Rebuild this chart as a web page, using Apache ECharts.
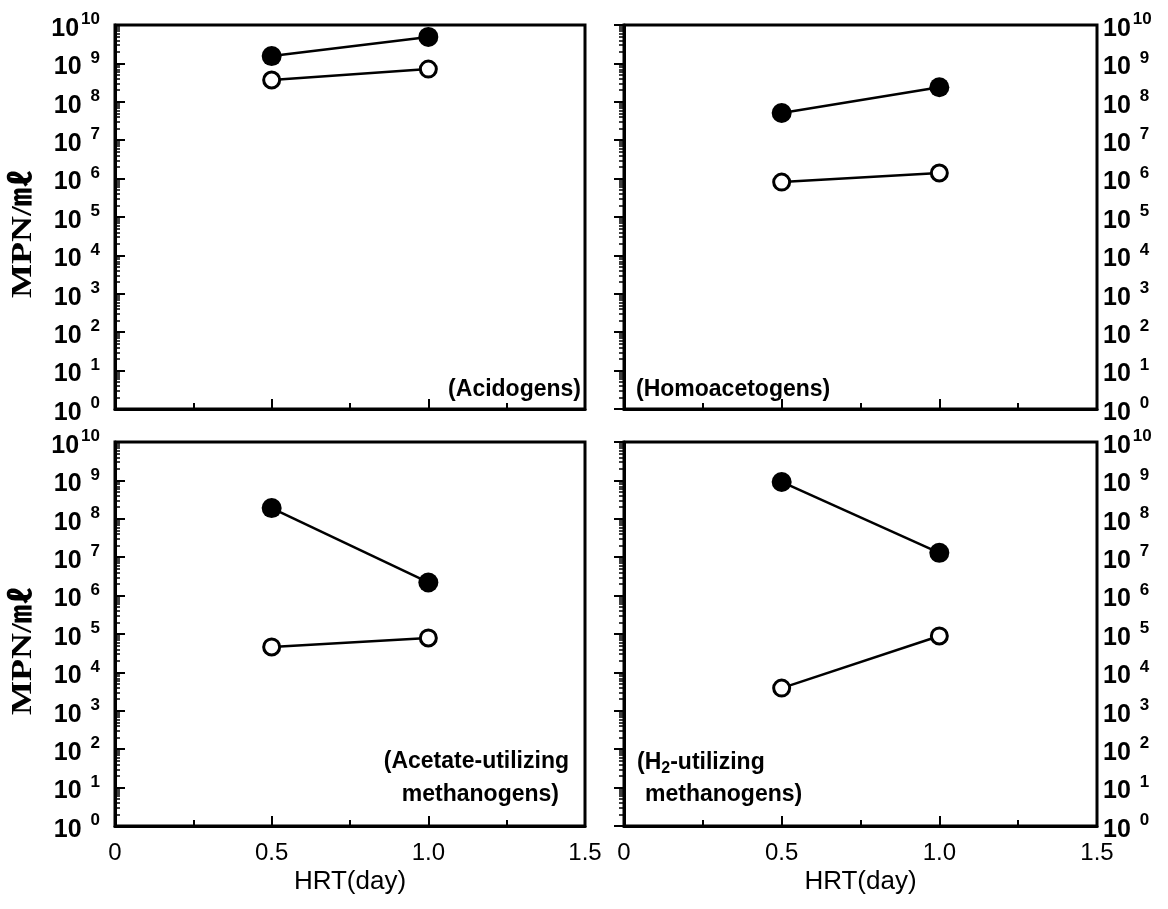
<!DOCTYPE html>
<html>
<head>
<meta charset="utf-8">
<script src="https://cdn.jsdelivr.net/npm/echarts@6/dist/echarts.min.js"></script>
<style>
html,body{margin:0;padding:0;background:#fff;}
#chart{width:1168px;height:909px;}
</style>
</head>
<body>
<div id="chart"></div>
<script>
// ---- data ----
const hrtValues = [0.5, 1.0];
const acidogensFilled = [1.55e9, 4.9e9];
const acidogensOpen = [3.7e8, 7.1e8];
const homoacetogensFilled = [5.1e7, 2.4e8];
const homoacetogensOpen = [8.1e5, 1.4e6];
const acetateFilled = [1.9e8, 2.2e6];
const acetateOpen = [4.6e4, 7.9e4];
const h2Filled = [9.1e8, 1.3e7];
const h2Open = [3.9e3, 8.9e4];
const xTickLabels = {0: '0', 0.5: '0.5', 1: '1.0', 1.5: '1.5'};
const yMin = 1, yMax = 1e10;

const SANS = '"Liberation Sans", Arial, Helvetica, sans-serif';
const SERIF = '"Liberation Serif", "Times New Roman", "Noto Sans CJK KR", serif';

const grids = [
  {left: 115, top: 25, width: 470, height: 384},
  {left: 624, top: 25, width: 473, height: 384},
  {left: 115, top: 442, width: 470, height: 384},
  {left: 624, top: 442, width: 473, height: 384}
];

function pairs(ys) { return hrtValues.map((x, i) => [x, ys[i]]); }

function xAxis(i, showLabels) {
  return {
    type: 'value', gridIndex: i, min: 0, max: 1.5, interval: 0.5,
    axisLine: {show: true, onZero: false, lineStyle: {color: '#000', width: 3}},
    axisTick: {show: true, inside: true, length: 10, lineStyle: {color: '#000', width: 2}},
    minorTick: {show: true, splitNumber: 2, length: 6, lineStyle: {color: '#000', width: 2}},
    splitLine: {show: false},
    axisLabel: {
      show: showLabels, margin: 15, color: '#000', fontSize: 24, fontFamily: SANS,
      formatter: v => xTickLabels[v] !== undefined ? xTickLabels[v] : String(v)
    },
    name: showLabels ? 'HRT(day)' : '',
    nameLocation: 'middle', nameGap: 43,
    nameTextStyle: {color: '#000', fontSize: 26, fontFamily: SANS}
  };
}

function yAxis(i, right) {
  return {
    type: 'log', logBase: 10, gridIndex: i, min: yMin, max: yMax, interval: 1,
    position: right ? 'right' : 'left',
    axisLine: {show: true, lineStyle: {color: '#000', width: 3}},
    axisTick: {show: true, inside: true, length: 10, lineStyle: {color: '#000', width: 2}},
    minorTick: {show: true, splitNumber: 9, length: 5, lineStyle: {color: '#000', width: 1.5}},
    splitLine: {show: false},
    axisLabel: {
      show: true, margin: right ? 6 : 15, color: '#000', fontFamily: SANS,
      align: right ? 'left' : 'right', padding: [8, 0, 0, 0],
      formatter: v => {
        const e = Math.round(Math.log10(v));
        return '{b|10}{' + (e >= 10 ? 's2' : 's1') + '|' + e + '}';
      },
      rich: {
        b: {fontSize: 25, fontWeight: 'bold', fontFamily: SANS, color: '#000', lineHeight: 36},
        s1: {fontSize: 17, fontWeight: 'bold', fontFamily: SANS, color: '#000', lineHeight: 17,
             verticalAlign: 'top', padding: [0, 0, 0, 9]},
        s2: {fontSize: 17, fontWeight: 'bold', fontFamily: SANS, color: '#000', lineHeight: 17,
             verticalAlign: 'top', padding: [0, 0, 0, 2]}
      }
    }
  };
}

function lineSeries(i, ys, filled) {
  return {
    type: 'line', xAxisIndex: i, yAxisIndex: i, data: pairs(ys),
    symbol: 'circle', symbolSize: filled ? 20 : 16,
    lineStyle: {color: '#000', width: 2.5},
    itemStyle: filled ? {color: '#000'} : {color: '#fff', borderColor: '#000', borderWidth: 3},
    z: 3, animation: false
  };
}

const panelLabelStyle = {fill: '#000', fontSize: 23, fontWeight: 'bold', fontFamily: SANS};
const mpnStyle = {text: 'MPN/㎖', fill: '#000', fontSize: 30, fontWeight: 'bold', fontFamily: SERIF,
  textAlign: 'center', textVerticalAlign: 'middle'};

const option = {
  animation: false,
  backgroundColor: '#fff',
  grid: grids.map(g => Object.assign({show: true, borderColor: '#000', borderWidth: 3, backgroundColor: 'transparent'}, g)),
  xAxis: [xAxis(0, false), xAxis(1, false), xAxis(2, true), xAxis(3, true)],
  yAxis: [yAxis(0, false), yAxis(1, true), yAxis(2, false), yAxis(3, true)],
  series: [
    lineSeries(0, acidogensFilled, true), lineSeries(0, acidogensOpen, false),
    lineSeries(1, homoacetogensFilled, true), lineSeries(1, homoacetogensOpen, false),
    lineSeries(2, acetateFilled, true), lineSeries(2, acetateOpen, false),
    lineSeries(3, h2Filled, true), lineSeries(3, h2Open, false)
  ],
  graphic: [
    {type: 'text', x: 23, y: 234, rotation: Math.PI / 2, scaleX: 1.2, style: Object.assign({}, mpnStyle)},
    {type: 'text', x: 23, y: 651, rotation: Math.PI / 2, scaleX: 1.2, style: Object.assign({}, mpnStyle)},
    {type: 'text', x: 581, y: 390,
     style: Object.assign({text: '(Acidogens)', textAlign: 'right', textVerticalAlign: 'middle'}, panelLabelStyle)},
    {type: 'text', x: 636, y: 390,
     style: Object.assign({text: '(Homoacetogens)', textAlign: 'left', textVerticalAlign: 'middle'}, panelLabelStyle)},
    {type: 'text', x: 569, y: 762,
     style: Object.assign({text: '(Acetate-utilizing', textAlign: 'right', textVerticalAlign: 'middle'}, panelLabelStyle)},
    {type: 'text', x: 559, y: 795,
     style: Object.assign({text: 'methanogens)', textAlign: 'right', textVerticalAlign: 'middle'}, panelLabelStyle)},
    {type: 'text', x: 637, y: 763,
     style: Object.assign({text: '(H{sub|2}-utilizing', textAlign: 'left', textVerticalAlign: 'middle',
       rich: {sub: {fontSize: 16, fontWeight: 'bold', fontFamily: SANS, fill: '#000', verticalAlign: 'bottom', padding: [12, 0, 0, 0]}}}, panelLabelStyle)},
    {type: 'text', x: 645, y: 795,
     style: Object.assign({text: 'methanogens)', textAlign: 'left', textVerticalAlign: 'middle'}, panelLabelStyle)}
  ]
};

const chart = echarts.init(document.getElementById('chart'), null, {renderer: 'canvas'});
chart.setOption(option);
</script>
</body>
</html>
